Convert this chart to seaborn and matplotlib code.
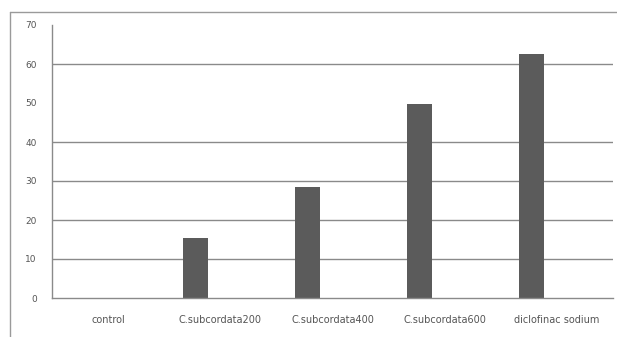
import numpy as np
import pandas as pd
import matplotlib
matplotlib.use("Agg")
import matplotlib.pyplot as plt
from matplotlib.lines import Line2D
import seaborn as sns

# Treatment groups and measured response (%)
categories = ["control", "C.subcordata200", "C.subcordata400", "C.subcordata600", "diclofinac sodium"]
inhibition = [0.0, 15.3, 28.5, 49.7, 62.6]
# Two further series in the workbook are empty
series_names = ["Series1", "Series2", "Series3"]
empty_series = [0.0, 0.0, 0.0, 0.0, 0.0]
y_ticks = [0, 10, 20, 30, 40, 50, 60, 70]
grid_levels = [10, 20, 30, 40, 60]

rows = []
for i, c in enumerate(categories):
    rows.append({"group": c, "series": series_names[0], "value": inhibition[i]})
    rows.append({"group": c, "series": series_names[1], "value": empty_series[i]})
    rows.append({"group": c, "series": series_names[2], "value": empty_series[i]})
df = pd.DataFrame(rows)

sns.set_style("white")
plt.rcParams["font.family"] = ["DejaVu Sans"]

W, H = 617, 337
fig = plt.figure(figsize=(W / 100, H / 100), dpi=100)
ax = fig.add_axes([52 / W, (H - 298) / H, (613 - 52) / W, (298 - 25) / H])

bar_color = "#5b5b5b"
sns.barplot(data=df, x="group", y="value", hue="series", order=categories,
            hue_order=series_names, palette=[bar_color] * 3, width=0.667,
            dodge=True, legend=False, ax=ax, errorbar=None, saturation=1,
            linewidth=0)

ax.set_ylim(0, 70)
ax.set_xlim(-0.5, len(categories) - 0.5)
ax.set_yticks(y_ticks)
ax.set_yticklabels([str(t) for t in y_ticks])
ax.set_xticks(np.arange(len(categories)))
ax.set_xticklabels(categories)
ax.set_xlabel("")
ax.set_ylabel("")

line_col = "#8a8a8a"
text_col = "#555555"
for g in grid_levels:
    ax.axhline(g, color=line_col, linewidth=1.0, zorder=0)

for s in ["top", "right"]:
    ax.spines[s].set_visible(False)
for s in ["left", "bottom"]:
    ax.spines[s].set_color(line_col)
    ax.spines[s].set_linewidth(1.0)

# y ticks outward; x tick marks at category boundaries
ax.tick_params(axis="y", which="major", direction="out", length=4, width=1,
               color=line_col, labelsize=6.5, labelcolor=text_col, pad=7)
ax.tick_params(axis="x", which="major", length=0, labelsize=7,
               labelcolor=text_col, pad=12)
ax.set_xticks(np.arange(len(categories) + 1) - 0.5, minor=True)
ax.tick_params(axis="x", which="minor", direction="out", length=4, width=1,
               color=line_col)

# chart area frame (left and top edges)
fig.add_artist(Line2D([10.5 / W, 10.5 / W], [0, (H - 12) / H],
                      transform=fig.transFigure, color="#9a9a9a", linewidth=1.0))
fig.add_artist(Line2D([10.5 / W, 1.0], [(H - 12) / H, (H - 12) / H],
                      transform=fig.transFigure, color="#9a9a9a", linewidth=1.0))

fig.savefig("out.png", dpi=100, facecolor="white")
